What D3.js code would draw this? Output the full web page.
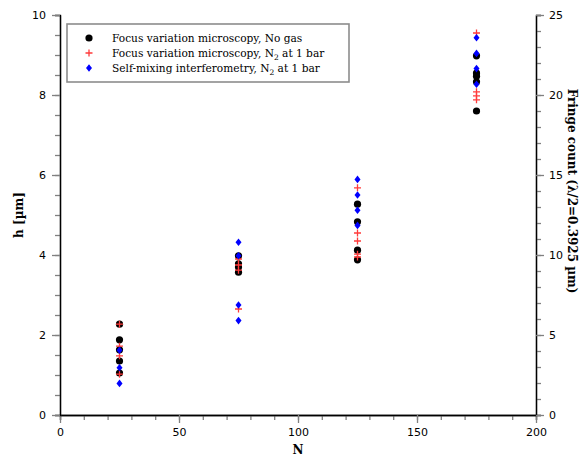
<!DOCTYPE html>
<html>
<head>
<meta charset="utf-8">
<script src="https://cdn.jsdelivr.net/npm/d3@7"></script>
<style>
  body { margin: 0; background: #fff; }
  .tick text { font-family: "DejaVu Sans", sans-serif; font-size: 11px; fill: #000; }
  .axis path.domain { stroke: #000; stroke-width: 1.3; }
  .axis .tick line { stroke: #808080; stroke-width: 1.3; }
  .title { font-family: "DejaVu Serif", serif; font-weight: bold; font-size: 12px; }
</style>
</head>
<body>
<div id="chart"></div>
<script>
// number of cycles N, one column of points per value
var nValues = [25, 75, 125, 175];

// h [um] read per N, focus variation microscopy, no gas
var noGasH = [
  [2.27, 1.88, 1.63, 1.35, 1.05],
  [3.98, 3.78, 3.70, 3.57],
  [5.27, 4.83, 4.12, 3.88],
  [8.98, 8.55, 8.47, 8.33, 7.60]
];
// focus variation microscopy, N2 at 1 bar
var focusN2H = [
  [2.27, 1.72, 1.48, 1.02],
  [3.90, 3.75, 3.62, 2.65],
  [5.68, 4.55, 4.35, 4.02, 3.95],
  [9.55, 8.08, 7.98, 7.88]
];
// self-mixing interferometry, N2 at 1 bar
var smiN2H = [
  [1.62, 1.18, 0.79],
  [4.32, 3.98, 2.75, 2.36],
  [5.89, 5.50, 5.12, 4.74],
  [9.43, 9.04, 8.66, 8.27]
];

var xTicks = [0, 50, 100, 150, 200];
var yTicks = [0, 2, 4, 6, 8, 10];
var y2Ticks = [0, 5, 10, 15, 20, 25];

var legendLabels = [
  ["Focus variation microscopy, No gas", null, ""],
  ["Focus variation microscopy, N", "2", " at 1 bar"],
  ["Self-mixing interferometry, N", "2", " at 1 bar"]
];

var width = 580, height = 459;
var svg = d3.select("#chart").append("svg")
	.attr("width", width)
	.attr("height", height);

var x = d3.scaleLinear().domain([0, 200]).range([60, 536]);
var y = d3.scaleLinear().domain([0, 10]).range([415, 15]);
var y2 = d3.scaleLinear().domain([0, 25]).range([415, 15]);

// minor ticks first, then the major ones on top
svg.append("g").attr("class", "axis")
	.attr("transform", "translate(0,415)")
	.call(d3.axisBottom(x).tickValues(d3.range(0, 201, 10)).tickSize(5).tickFormat(""));
svg.append("g").attr("class", "axis")
	.attr("transform", "translate(0,415)")
	.call(d3.axisBottom(x).tickValues(xTicks).tickSize(8).tickPadding(5).tickSizeOuter(0));

svg.append("g").attr("class", "axis")
	.attr("transform", "translate(60,0)")
	.call(d3.axisLeft(y).tickValues(d3.range(0, 10.01, 0.5)).tickSize(5).tickFormat(""));
svg.append("g").attr("class", "axis")
	.attr("transform", "translate(60,0)")
	.call(d3.axisLeft(y).tickValues(yTicks).tickSize(8).tickPadding(6).tickSizeOuter(0));

svg.append("g").attr("class", "axis")
	.attr("transform", "translate(536,0)")
	.call(d3.axisRight(y2).tickValues(d3.range(0, 26, 1)).tickSize(5).tickFormat(""));
svg.append("g").attr("class", "axis")
	.attr("transform", "translate(536,0)")
	.call(d3.axisRight(y2).tickValues(y2Ticks).tickSize(8).tickPadding(5).tickSizeOuter(0));

// axis titles
svg.append("text").attr("class", "title")
	.attr("x", 298).attr("y", 454)
	.attr("text-anchor", "middle")
	.text("N");
svg.append("text").attr("class", "title")
	.attr("transform", "translate(23,215) rotate(-90)")
	.attr("text-anchor", "middle")
	.text("h [µm]");
svg.append("text").attr("class", "title")
	.attr("transform", "translate(568,191) rotate(90)")
	.attr("text-anchor", "middle")
	.text("Fringe count (λ/2=0.3925 µm)");

function flat(arr) {
	var out = [];
	arr.forEach(function(col, i) {
		col.forEach(function(h) { out.push({n: nValues[i], h: h}); });
	});
	return out;
}

var plusPath = "M-3.5,0H3.5M0,-3.5V3.5";
var diamondPath = "M0,-3.8L3,0L0,3.8L-3,0Z";

svg.append("g").selectAll("circle").data(flat(noGasH))
	.enter().append("circle")
	.attr("cx", function(d) { return x(d.n); })
	.attr("cy", function(d) { return y(d.h); })
	.attr("r", 3.6)
	.attr("fill", "#000");

svg.append("g").selectAll("path").data(flat(focusN2H))
	.enter().append("path")
	.attr("transform", function(d) { return "translate(" + x(d.n) + "," + y(d.h) + ")"; })
	.attr("d", plusPath)
	.attr("fill", "none")
	.attr("stroke", "#ff3b3b")
	.attr("stroke-width", 1.3);

svg.append("g").selectAll("path").data(flat(smiN2H))
	.enter().append("path")
	.attr("transform", function(d) { return "translate(" + x(d.n) + "," + y(d.h) + ")"; })
	.attr("d", diamondPath)
	.attr("fill", "#0000ff");

// legend
var lg = svg.append("g").attr("class", "legend");
lg.append("rect")
	.attr("x", 67).attr("y", 24)
	.attr("width", 282).attr("height", 58)
	.attr("fill", "#fff")
	.attr("stroke", "#8c8c8c")
	.attr("stroke-width", 1.6);

var rows = lg.selectAll("g.row").data(legendLabels)
	.enter().append("g")
	.attr("class", "row")
	.attr("transform", function(d, i) { return "translate(0," + (38 + i * 15) + ")"; });

rows.filter(function(d, i) { return i == 0; }).append("circle")
	.attr("cx", 89).attr("cy", 0).attr("r", 3.6).attr("fill", "#000");
rows.filter(function(d, i) { return i == 1; }).append("path")
	.attr("transform", "translate(89,0)")
	.attr("d", plusPath).attr("fill", "none").attr("stroke", "#ff3b3b").attr("stroke-width", 1.3);
rows.filter(function(d, i) { return i == 2; }).append("path")
	.attr("transform", "translate(89,0)")
	.attr("d", diamondPath).attr("fill", "#0000ff");

var txt = rows.append("text")
	.attr("x", 112).attr("y", 4)
	.style("font-family", "DejaVu Serif, serif").style("font-size", "10.6px");
txt.append("tspan").text(function(d) { return d[0]; });
txt.filter(function(d) { return d[1]; }).append("tspan")
	.attr("dy", 2.5).style("font-size", "7.5px").text(function(d) { return d[1]; });
txt.filter(function(d) { return d[1]; }).append("tspan")
	.attr("dy", -2.5).text(function(d) { return d[2]; });
</script>
</body>
</html>
